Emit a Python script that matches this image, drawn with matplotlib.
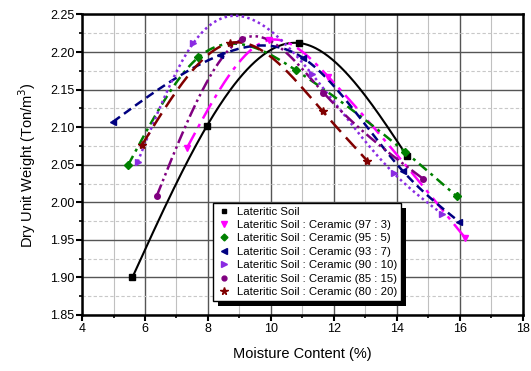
import numpy as np
import matplotlib
matplotlib.use('Agg')
import matplotlib.pyplot as plt
from matplotlib.lines import Line2D
from matplotlib.patches import Rectangle
from matplotlib.transforms import IdentityTransform
from matplotlib.ticker import MultipleLocator

plt.rcParams['font.family'] = ['Liberation Sans', 'DejaVu Sans']

# compaction test points (moisture %, dry unit weight)
soil_w = [5.60, 7.96, 10.90, 14.32]
soil_d = [1.900, 2.101, 2.212, 2.062]

c97_w = [7.33, 9.95, 11.83, 16.17]
c97_d = [2.072, 2.216, 2.167, 1.953]

c95_w = [5.47, 7.70, 10.79, 14.27, 15.91]
c95_d = [2.050, 2.193, 2.176, 2.067, 2.008]

c93_w = [4.98, 8.39, 11.03, 14.21, 15.99]
c93_d = [2.107, 2.196, 2.192, 2.041, 1.974]

c90_w = [5.77, 7.54, 11.30, 13.90, 15.43]
c90_d = [2.054, 2.212, 2.171, 2.039, 1.985]

c85_w = [6.37, 9.08, 11.67, 14.85]
c85_d = [2.008, 2.217, 2.146, 2.031]

c80_w = [5.90, 8.70, 11.65, 13.07]
c80_d = [2.076, 2.212, 2.121, 2.055]

labels = ['Lateritic Soil',
          'Lateritic Soil : Ceramic (97 : 3)',
          'Lateritic Soil : Ceramic (95 : 5)',
          'Lateritic Soil : Ceramic (93 : 7)',
          'Lateritic Soil : Ceramic (90 : 10)',
          'Lateritic Soil : Ceramic (85 : 15)',
          'Lateritic Soil : Ceramic (80 : 20)']


def natural_spline(x, y, n=200):
    # plain natural cubic spline, only used to draw the smooth connecting line
    x = np.asarray(x, float)
    y = np.asarray(y, float)
    k = len(x)
    h = np.diff(x)
    A = np.zeros((k, k))
    b = np.zeros(k)
    A[0, 0] = 1
    A[-1, -1] = 1
    for i in range(1, k - 1):
        A[i, i - 1] = h[i - 1]
        A[i, i] = 2 * (h[i - 1] + h[i])
        A[i, i + 1] = h[i]
        b[i] = 3 * ((y[i + 1] - y[i]) / h[i] - (y[i] - y[i - 1]) / h[i - 1])
    c = np.linalg.solve(A, b)
    xs = np.linspace(x[0], x[-1], n)
    ys = np.empty_like(xs)
    for j, xv in enumerate(xs):
        i = min(np.searchsorted(x, xv, side='right') - 1, k - 2)
        dx = xv - x[i]
        bb = (y[i + 1] - y[i]) / h[i] - h[i] * (c[i + 1] + 2 * c[i]) / 3
        dd = (c[i + 1] - c[i]) / (3 * h[i])
        ys[j] = y[i] + bb * dx + c[i] * dx ** 2 + dd * dx ** 3
    return xs, ys


def main():
    fig = plt.figure(figsize=(5.31, 3.71), dpi=100)
    ax = fig.add_axes([0.1545, 0.151, 0.8295, 0.810])

    series = [
        (soil_w, soil_d, 'black', 's', '-'),
        (c97_w, c97_d, '#FF00FF', 'v', (0, (7, 2.5, 1.5, 2.5))),
        (c95_w, c95_d, '#008000', 'D', (0, (4, 2, 1.2, 2))),
        (c93_w, c93_d, '#000080', '<', (0, (3.5, 2))),
        (c90_w, c90_d, '#8A2BE2', '>', (0, (1, 1.3))),
        (c85_w, c85_d, '#800080', 'o', (0, (5, 1.5, 1, 1.5, 1, 1.5))),
        (c80_w, c80_d, '#800000', '*', (0, (6, 3))),
    ]

    handles = []
    for (w, d, col, mk, ls), lab in zip(series, labels):
        xs, ys = natural_spline(w, d)
        lw = 1.5 if ls == '-' else 1.8
        ax.plot(xs, ys, color=col, linestyle=ls, linewidth=lw, zorder=3)
        ms = 6 if mk == '*' else (4 if mk in ('s', 'D', 'o') else 5)
        ax.plot(w, d, linestyle='none', marker=mk, color=col, markersize=ms, zorder=4)
        handles.append(Line2D([], [], linestyle='none', marker=mk, color=col,
                              markersize=ms - 0.5, label=lab))

    ax.set_xlim(4, 18)
    ax.set_ylim(1.85, 2.25)
    ax.xaxis.set_major_locator(MultipleLocator(2))
    ax.xaxis.set_minor_locator(MultipleLocator(1))
    ax.yaxis.set_major_locator(MultipleLocator(0.05))
    ax.yaxis.set_minor_locator(MultipleLocator(0.025))
    ax.yaxis.set_major_formatter(matplotlib.ticker.FormatStrFormatter('%.2f'))

    ax.grid(True, which='major', color='#555555', linewidth=1.0, zorder=0)
    ax.xaxis.grid(True, which='minor', color='#c0c0c0', linewidth=0.8)
    ax.yaxis.grid(True, which='minor', color='#c8c8c8', linewidth=0.8, linestyle=(0, (3, 2)))
    ax.set_axisbelow(True)

    for sp in ax.spines.values():
        sp.set_linewidth(1.8)
    ax.tick_params(which='major', direction='out', length=4, width=1.5, labelsize=9, pad=1.5)
    ax.tick_params(which='minor', direction='out', length=2.5, width=1.2)

    ax.set_xlabel('Moisture Content (%)', fontsize=10.5, labelpad=9)
    ax.set_ylabel('Dry Unit Weight (Ton/m$^3$)', fontsize=10.5, labelpad=9)

    leg = ax.legend(handles=handles, loc='upper left', bbox_to_anchor=(0.298, 0.372),
                    borderaxespad=0, fontsize=8.2, labelspacing=0.3, handlelength=1.2,
                    handletextpad=0.6, borderpad=0.3, frameon=True, fancybox=False)
    leg.get_frame().set_edgecolor('black')
    leg.get_frame().set_linewidth(1.0)
    leg.get_frame().set_alpha(1)
    leg.set_zorder(6)

    # solid black drop shadow like the original
    fig.canvas.draw()
    bb = leg.get_window_extent()
    ax.add_patch(Rectangle((bb.x0 + 5, bb.y0 - 5), bb.width, bb.height,
                           transform=IdentityTransform(), facecolor='black',
                           edgecolor='none', zorder=5.5, clip_on=False))

    fig.savefig('out.png', dpi=100)


if __name__ == '__main__':
    main()
